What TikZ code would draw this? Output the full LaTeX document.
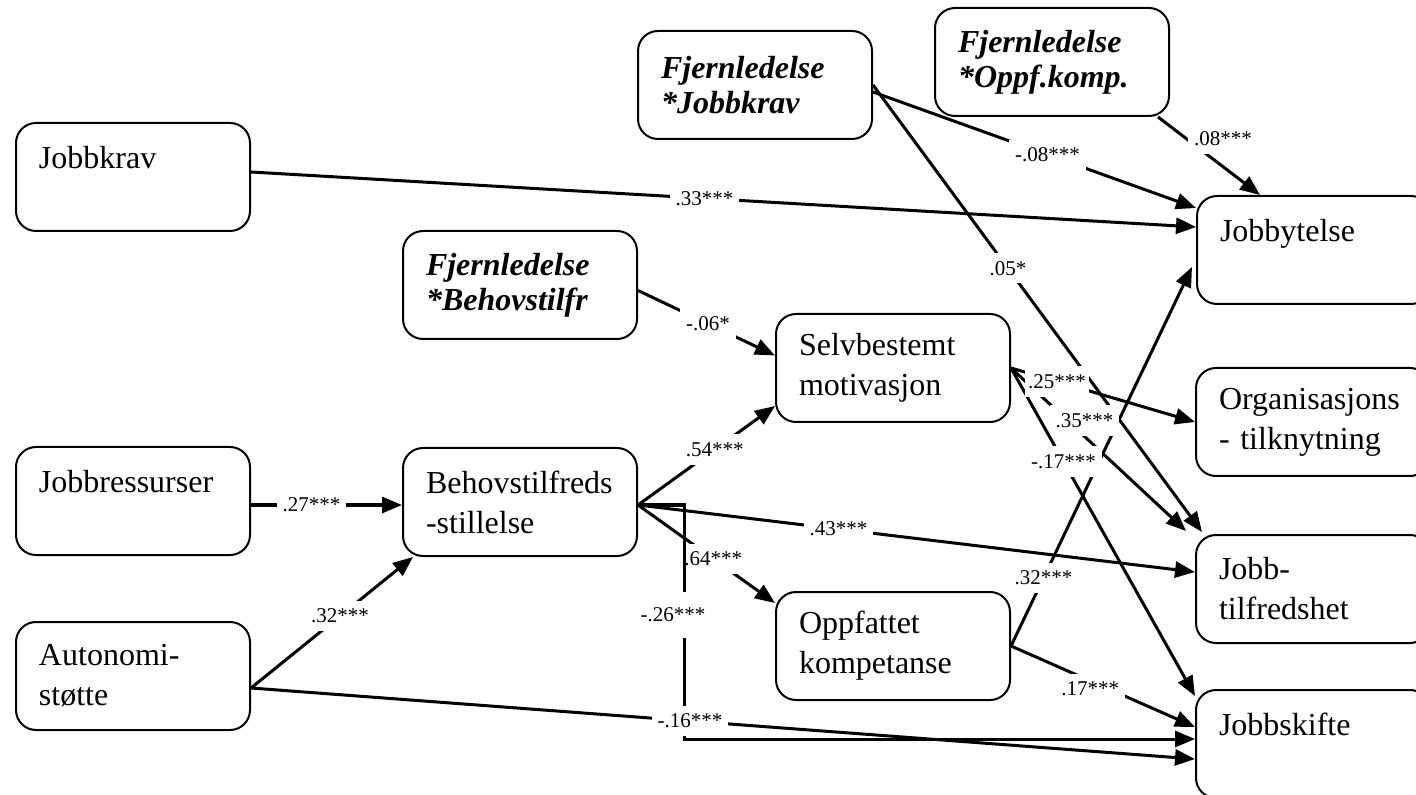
\documentclass[tikz,border=0pt]{standalone}
\usepackage{fontspec}
\setmainfont{Liberation Serif}
\usetikzlibrary{arrows.meta}
\begin{document}
\begin{tikzpicture}[x=0.5pt,y=-0.5pt,
  box/.style={draw, line width=1pt, rounded corners=10pt,
    minimum width=117pt, minimum height=54pt, text width=94pt,
    inner xsep=11.5pt, inner ysep=0pt, align=left,
    font=\fontsize{16}{20}\selectfont},
  mod/.style={box, font=\fontsize{16}{17.5}\selectfont\bfseries\itshape},
  arr/.style={line width=1.5pt, -{Triangle[length=10pt,width=8pt]}},
  lbl/.style={fill=white, inner xsep=3pt, inner ysep=4pt,
    font=\fontsize{10.5}{12}\selectfont},
]
\clip (0,0) rectangle (1416,795);

% variables
\node[box] (jk)  at (133,177)  {Jobbkrav\\\mbox{}};
\node[box] (jr)  at (133,501)  {Jobbressurser\\\mbox{}};
\node[box] (au)  at (133,676)  {Autonomi-\\støtte};
\node[mod] (fb)  at (520,285)  {Fjernledelse\\{*}Behovstilfr};
\node[box] (bh)  at (520,502)  {Behovstilfreds\\-stillelse};
\node[mod] (fj)  at (755,85)   {Fjernledelse\\{*}Jobbkrav};
\node[mod] (fo)  at (1052,62)  {Fjernledelse\\{*}Oppf.komp.};
\node[box] (sm)  at (893,368)  {Selvbestemt\\motivasjon};
\node[box] (ok)  at (893,646)  {Oppfattet\\kompetanse};
\node[box] (jy)  at (1314,250) {Jobbytelse\\\mbox{}};
\node[box] (org) at (1313,422) {Organisasjons\\- tilknytning};
\node[box] (jt)  at (1313,589) {Jobb-\\tilfredshet};
\node[box] (js)  at (1313,744) {Jobbskifte\\\mbox{}};

% paths that run under other coefficients go first
\draw[arr] (ok.east) -- node[lbl,pos=0.18]{.32***} ([xshift=-2pt,yshift=-8.5pt]jy.west);
\draw[arr] (fj.east) -- node[lbl,pos=0.41]{.05*} ([xshift=3.5pt,yshift=1pt]jt.north west);

% job demands and remote leadership -> performance
\draw[arr] ([yshift=2.5pt]jk.east) -- node[lbl,pos=0.48]{.33***} ([yshift=11.5pt]jy.west);
\draw[arr] ([yshift=-3.5pt]fj.east) -- node[lbl,pos=0.54]{-.08***} ([yshift=21pt]jy.west);
\draw[arr] ([xshift=-6pt]fo.south east) -- node[lbl,pos=0.3,anchor=west,xshift=-1pt,yshift=1pt]{.08***} ([xshift=-27pt]jy.north);
\draw[arr] ([yshift=-2.75pt]fb.east) -- node[lbl,pos=0.51]{-.06*} ([yshift=6.25pt]sm.west);

% need satisfaction
\coordinate (bo) at ([yshift=-1.5pt]bh.east);
\draw[arr] (bo) -- node[lbl,pos=0.56]{.54***} ([yshift=8.5pt]sm.south west);
\draw[arr] (bo) -- node[lbl,pos=0.55]{.64***} ([yshift=-6pt]ok.north west);
\draw[arr] (bo) -- node[lbl,pos=0.36]{.43***} ([yshift=8.5pt]jt.west);
\draw[arr] (bo) -- ++(23pt,0) |- node[lbl,pos=0.235,xshift=-5.5pt,inner ysep=8pt]{-.26***} ([yshift=2.5pt]js.west);

% resources and autonomy support
\draw[arr] ([yshift=-2pt]jr.east) -- node[lbl,pos=0.4]{.27***} ([yshift=-1.5pt]bh.west);
\coordinate (ao) at ([yshift=-6pt]au.east);
\draw[arr] (ao) -- node[lbl,pos=0.55]{.32***} ([xshift=5.5pt]bh.south west);
\draw[arr] (ao) -- node[lbl,pos=0.465]{-.16***} ([yshift=-7.5pt]js.west);

% motivation and competence -> outcomes
\draw[arr] (sm.east) -- node[lbl,pos=0.42,yshift=8pt]{.35***} ([xshift=-4.5pt,yshift=1.5pt]jt.north west);
\draw[arr] (sm.east) -- node[lbl,pos=0.285]{-.17***} ([yshift=-3.5pt]js.north west);
\draw[arr] (sm.east) -- node[lbl,pos=0.25,inner xsep=1.5pt]{.25***} (org.west);
\draw[arr] (ok.east) -- node[lbl,pos=0.43,yshift=-4pt]{.17***} ([yshift=8.5pt]js.west);
\end{tikzpicture}
\end{document}
